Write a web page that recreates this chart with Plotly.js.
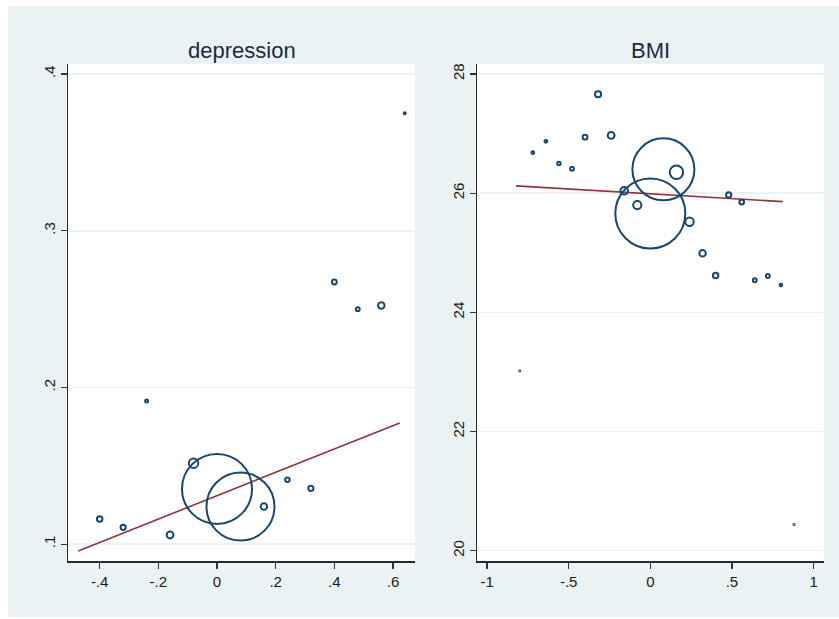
<!DOCTYPE html>
<html>
<head>
<meta charset="utf-8">
<script src="https://cdn.plot.ly/plotly-3.0.1.min.js"></script>
<style>
html, body { margin: 0; padding: 0; background: #ffffff; width: 839px; height: 619px; overflow: hidden; }
#chart { position: absolute; left: 8px; top: 6px; width: 831px; height: 611px; }
</style>
</head>
<body>
<div id="chart"></div>
<script>
// ---- data ----
const depX = [-0.40, -0.32, -0.24, -0.16, -0.08, 0.00, 0.08, 0.16, 0.24, 0.32, 0.40, 0.48, 0.56, 0.64];
const depY = [0.1161, 0.1108, 0.1914, 0.1059, 0.1517, 0.1353, 0.1240, 0.1240, 0.1412, 0.1357, 0.2673, 0.2500, 0.2523, 0.3749];
const depWeight = [5.5, 5.2, 3, 6.8, 9.5, 70, 68, 6.5, 4.5, 5.2, 4.8, 3.8, 6.5, 2];
const depFitX = [-0.473, 0.623];
const depFitY = [0.0957, 0.1774];

const bmiX = [-0.80, -0.72, -0.64, -0.56, -0.48, -0.40, -0.32, -0.24, -0.16, -0.08, 0.00, 0.08, 0.16, 0.24, 0.32, 0.40, 0.48, 0.56, 0.64, 0.72, 0.80, 0.88];
const bmiY = [23.02, 26.68, 26.87, 26.50, 26.41, 26.94, 27.66, 26.97, 26.04, 25.80, 25.66, 26.40, 26.35, 25.52, 24.99, 24.62, 25.97, 25.85, 24.54, 24.61, 24.46, 20.44];
const bmiWeight = [1, 2.8, 2.8, 3.5, 3.8, 4.8, 6.2, 6.8, 7.5, 8.2, 70, 62, 13.5, 8.5, 6.5, 5.5, 5.2, 4.8, 3.8, 3.8, 2.5, 1];
const bmiFitX = [-0.823, 0.811];
const bmiFitY = [26.122, 25.859];

const depTickVals = [-0.4, -0.2, 0, 0.2, 0.4, 0.6];
const depTickText = ['-.4', '-.2', '0', '.2', '.4', '.6'];
const depYTickVals = [0.1, 0.2, 0.3, 0.4];
const depYTickText = ['.1', '.2', '.3', '.4'];
const bmiTickVals = [-1, -0.5, 0, 0.5, 1];
const bmiTickText = ['-1', '-.5', '0', '.5', '1'];
const bmiYTickVals = [20, 22, 24, 26, 28];
const bmiYTickText = ['20', '22', '24', '26', '28'];

const titles = ['depression', 'BMI'];

// ---- styles ----
const navy = '#1a476f';
const maroon = '#90353b';
const bg = '#eaf2f3';
const font = 'Liberation Sans, Arial, sans-serif';

function scatter(x, y, w, xa, ya) {
  return {
    type: 'scatter', mode: 'markers', x: x, y: y, xaxis: xa, yaxis: ya,
    marker: { symbol: 'circle-open', size: w, color: navy, opacity: 1, line: { width: 2, color: navy } },
    hoverinfo: 'skip', showlegend: false, cliponaxis: true
  };
}
function fit(x, y, xa, ya) {
  return {
    type: 'scatter', mode: 'lines', x: x, y: y, xaxis: xa, yaxis: ya,
    line: { color: maroon, width: 1.6 }, hoverinfo: 'skip', showlegend: false
  };
}

const data = [
  fit(depFitX, depFitY, 'x', 'y'),
  scatter(depX, depY, depWeight, 'x', 'y'),
  fit(bmiFitX, bmiFitY, 'x2', 'y2'),
  scatter(bmiX, bmiY, bmiWeight, 'x2', 'y2')
];

const W = 831, H = 611;
const yDom = [(H - 555) / H, (H - 58) / H];
const xDom1 = [(68.3 - 8) / W, (415 - 8) / W];
const xDom2 = [(477.3 - 8) / W, (824 - 8) / W];

function xax(dom, range, tv, tt, anchor) {
  return {
    domain: dom, range: range, anchor: anchor,
    tickvals: tv, ticktext: tt, ticks: 'outside', ticklen: 6, tickwidth: 1.3, tickcolor: '#333',
    showline: true, linecolor: '#2a2a2a', linewidth: 1.5, mirror: false,
    showgrid: false, zeroline: false, fixedrange: true,
    tickfont: { family: font, size: 15, color: '#1a1a1a' }
  };
}
function yax(dom, range, tv, tt, anchor) {
  return {
    domain: dom, range: range, anchor: anchor,
    tickvals: tv, ticktext: tt, ticks: 'outside', ticklen: 6, tickwidth: 1.3, tickcolor: '#333',
    showline: true, linecolor: '#2a2a2a', linewidth: 1.5, mirror: false,
    showgrid: true, gridcolor: bg, gridwidth: 1.5, zeroline: false, fixedrange: true,
    tickangle: -90,
    tickfont: { family: font, size: 15, color: '#1a1a1a' }
  };
}

const layout = {
  width: W, height: H,
  margin: { l: 0, r: 0, t: 0, b: 0, pad: 0 },
  paper_bgcolor: bg, plot_bgcolor: '#ffffff',
  showlegend: false,
  xaxis: xax(xDom1, [-0.507, 0.675], depTickVals, depTickText, 'y'),
  yaxis: yax(yDom, [0.0893, 0.4064], depYTickVals, depYTickText, 'x'),
  xaxis2: xax(xDom2, [-1.060, 1.064], bmiTickVals, bmiTickText, 'y2'),
  yaxis2: yax(yDom, [19.827, 28.168], bmiYTickVals, bmiYTickText, 'x2'),
  annotations: [
    { text: titles[0], xref: 'paper', yref: 'paper', x: (xDom1[0] + xDom1[1]) / 2, y: (H - 44) / H,
      xanchor: 'center', yanchor: 'middle', showarrow: false, font: { family: font, size: 22, color: '#1e2a40' } },
    { text: titles[1], xref: 'paper', yref: 'paper', x: (xDom2[0] + xDom2[1]) / 2, y: (H - 44) / H,
      xanchor: 'center', yanchor: 'middle', showarrow: false, font: { family: font, size: 22, color: '#1e2a40' } }
  ]
};

Plotly.newPlot('chart', data, layout, { staticPlot: true, displayModeBar: false });
</script>
</body>
</html>
